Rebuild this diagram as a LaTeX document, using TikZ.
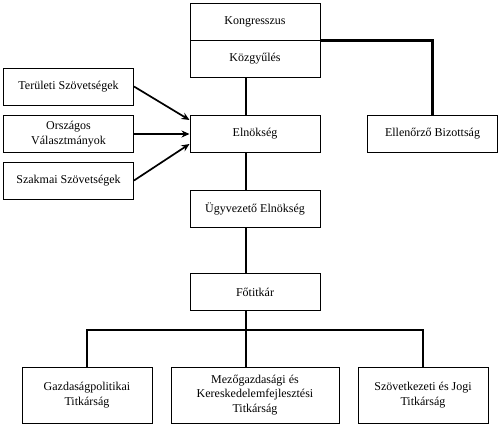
\documentclass[tikz,border=0pt]{standalone}
\usepackage{fontspec}
\setmainfont{Liberation Serif}
\usepackage{tikz}
\usetikzlibrary{arrows.meta,calc,positioning}

\begin{document}
\begin{tikzpicture}[
    x=1pt, y=-1pt,
    >=Stealth,
    every node/.style={font=\fontsize{12}{14.5}\selectfont},
    unit/.style={draw, rectangle, line width=1pt, fill=white,
        minimum width=130pt, minimum height=37pt, inner sep=2pt, align=center},
    link/.style={line width=2.6pt},
    feed/.style={line width=1.7pt, -{Stealth[length=8pt,width=7pt]}}
]
    \useasboundingbox (0,0) rectangle (500,426);

    \node[unit] (kongr) at (255,21.5) {Kongresszus};
    \node[unit] (kozgy) at (255,58.5) {Közgyűlés};

    \node[unit] (terul) at (68.5,86.5) {Területi Szövetségek};
    \node[unit] (orsz) at (68.5,134) {Országos\\Választmányok};
    \node[unit] (szakm) at (68.5,180.5) {Szakmai Szövetségek};

    \node[unit] (elnok) at (255,134) {Elnökség};
    \node[unit] (ellen) at (432.5,134) {Ellenőrző Bizottság};
    \node[unit] (ugyv) at (255,208.5) {Ügyvezető Elnökség};
    \node[unit] (fotit) at (255,292) {Főtitkár};

    \node[unit, minimum height=56pt] (gazd) at (87,395) {Gazdaságpolitikai\\Titkárság};
    \node[unit, minimum height=56pt, minimum width=168pt] (mezo) at (255,395)
        {Mezőgazdasági és\\Kereskedelemfejlesztési\\Titkárság};
    \node[unit, minimum height=56pt] (szov) at (423,395) {Szövetkezeti és Jogi\\Titkárság};

    \coordinate (bus) at (246,330);

    \draw[link] (kongr.south east) -| (ellen.north);
    \draw[link] ([xshift=-9pt]kozgy.south) -- ([xshift=-9pt]elnok.north);
    \draw[link] ([xshift=-9pt]elnok.south) -- ([xshift=-9pt]ugyv.north);
    \draw[link] ([xshift=-9pt]ugyv.south) -- ([xshift=-9pt]fotit.north);
    \draw[link] ([xshift=-9pt]fotit.south) -- ([xshift=-9pt]mezo.north);
    \draw[link] (gazd.north) |- (bus) -| (szov.north);

    \draw[feed] (terul.east) -- ([yshift=14pt]elnok.west);
    \draw[feed] (orsz.east) -- (elnok.west);
    \draw[feed] (szakm.east) -- ([yshift=-10pt]elnok.west);
\end{tikzpicture}
\end{document}
